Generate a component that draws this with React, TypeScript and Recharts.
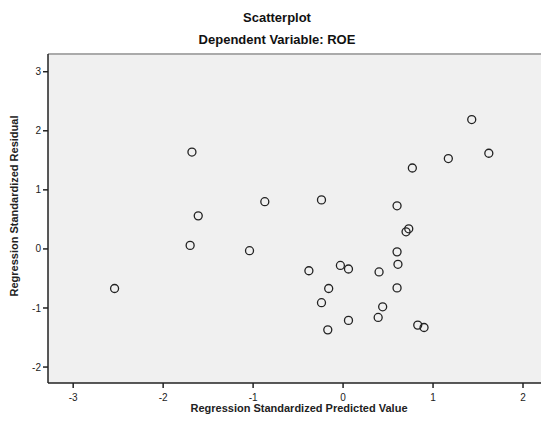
import React from 'react';
import { ScatterChart, Scatter, XAxis, YAxis, CartesianGrid, ReferenceLine } from 'recharts';

// standardized predicted value vs standardized residual
const predicted = [-2.54, -1.68, -1.61, -1.70, -1.04, -0.87, -0.24, -0.38, -0.24, -0.16, -0.17, -0.03, 0.06, 0.06, 0.40, 0.44, 0.39, 0.61, 0.60, 0.60, 0.60, 0.70, 0.73, 0.77, 0.83, 0.90, 1.17, 1.43, 1.62];
const residual = [-0.67, 1.64, 0.56, 0.06, -0.03, 0.80, 0.83, -0.37, -0.91, -0.67, -1.37, -0.28, -0.34, -1.21, -0.39, -0.98, -1.16, -0.26, -0.05, -0.66, 0.73, 0.29, 0.34, 1.37, -1.29, -1.33, 1.53, 2.19, 1.62];

const xTicks = [-3, -2, -1, 0, 1, 2];
const yTicks = [-2, -1, 0, 1, 2, 3];

const data = predicted.map((x, i) => ({ x, y: residual[i] }));

const FONT = '"Liberation Sans", Arial, sans-serif';
const Y_TOP = 3.3;

const Marker = (props: any) => {
  const { cx, cy } = props;
  return <circle cx={cx} cy={cy} r={4} fill="none" stroke="#222" strokeWidth={1.3} />;
};

export default function App() {
  return (
    <div style={{ position: 'absolute', left: 0, top: 0, width: 541, height: 430, background: '#fff', fontFamily: FONT }}>
      <div style={{ position: 'absolute', top: 10, width: 554, textAlign: 'center', fontSize: 13, fontWeight: 'bold', color: '#111' }}>
        Scatterplot
      </div>
      <div style={{ position: 'absolute', top: 32, width: 554, textAlign: 'center', fontSize: 13, fontWeight: 'bold', color: '#111' }}>
        Dependent Variable: ROE
      </div>
      <ScatterChart width={541} height={430} margin={{ top: 54, right: 0, left: 0, bottom: 0 }}>
        <CartesianGrid fill="#f0f0f0" stroke="#f0f0f0" horizontal={false} vertical={false} />
        <ReferenceLine y={Y_TOP} stroke="#aaa" strokeWidth={2} ifOverflow="visible" />
        <XAxis
          type="number"
          dataKey="x"
          domain={[-3.28, 2.2]}
          ticks={xTicks}
          allowDataOverflow
          height={47}
          stroke="#222"
          strokeWidth={1.5}
          tickSize={5}
          tick={{ fontSize: 10, fill: '#222', fontFamily: FONT, dy: 4 }}
          label={{
            content: () => (
              <text x={299} y={412} textAnchor="middle" fontSize={11} fontWeight="bold" fill="#222" fontFamily={FONT}>
                Regression Standardized Predicted Value
              </text>
            ),
          }}
        />
        <YAxis
          type="number"
          dataKey="y"
          domain={[-2.27, Y_TOP]}
          ticks={yTicks}
          allowDataOverflow
          width={48}
          stroke="#222"
          strokeWidth={1.5}
          tickSize={5}
          tick={{ fontSize: 10, fill: '#222', fontFamily: FONT }}
          label={{
            content: () => (
              <text x={18} y={206} transform="rotate(-90 18 206)" textAnchor="middle" fontSize={11} fontWeight="bold" fill="#222" fontFamily={FONT}>
                Regression Standardized Residual
              </text>
            ),
          }}
        />
        <Scatter data={data} shape={Marker} isAnimationActive={false} />
      </ScatterChart>
    </div>
  );
}
